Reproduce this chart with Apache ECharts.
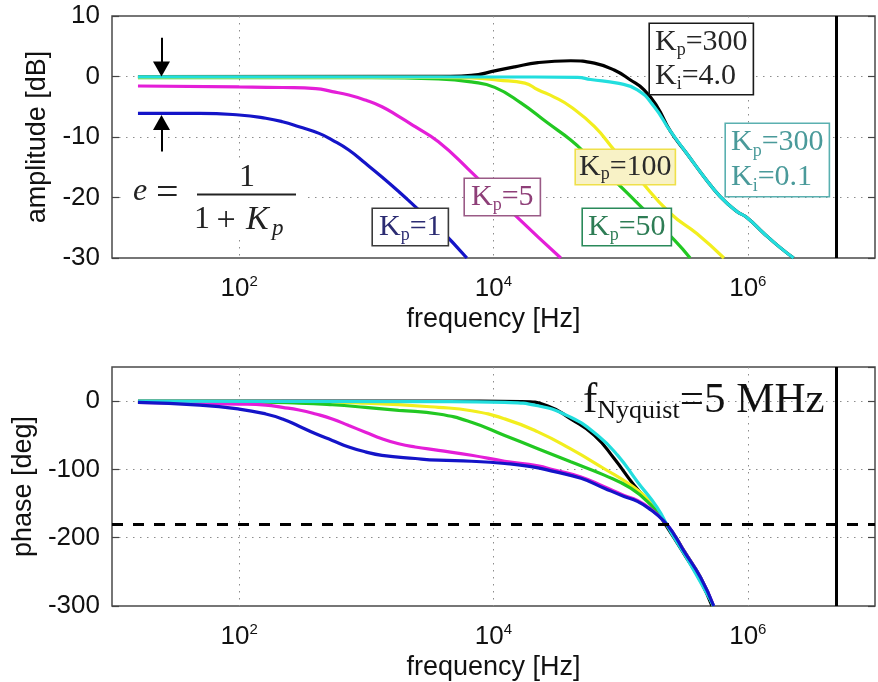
<!DOCTYPE html>
<html>
<head>
<meta charset="utf-8">
<script src="https://cdn.jsdelivr.net/npm/echarts@6/dist/echarts.min.js"></script>
<style>
html,body{margin:0;padding:0;background:#fff;}
#chart{width:878px;height:682px;}
</style>
</head>
<body>
<div id="chart"></div>
<script>
// ---- Bode data: frequency [Hz] with amplitude [dB] / phase [deg] ----
const ampKp1   = [[16,-6.08],[49,-6.08],[100,-6.36],[162,-6.9],[219,-7.47],[296,-8.3],[425,-9.4],[540,-10.5],[728,-12.15],[984,-14.35],[1327,-16.6],[1795,-19.0],[2422,-21.5],[3690,-25.0],[6170,-30]];
const ampKp5   = [[16,-1.57],[100,-1.72],[219,-1.82],[400,-2.0],[540,-2.5],[728,-3.06],[984,-3.9],[1327,-5.0],[1795,-6.6],[2422,-8.3],[3690,-10.8],[6330,-15.3],[14760,-22.9],[33810,-30]];
const ampKp50  = [[16,-0.17],[1000,-0.2],[3690,-0.4],[6680,-0.9],[10230,-1.8],[16520,-4.4],[26740,-7.7],[40480,-10.5],[58000,-13.5],[81700,-16.4],[130600,-20.6],[263700,-27.0],[351700,-30]];
const ampKp100 = [[16,-0.1],[3690,-0.15],[6680,-0.25],[10870,-0.6],[17650,-1.1],[22330,-2.2],[30000,-3.4],[40480,-5.0],[62350,-8.3],[89400,-12.2],[135300,-16.6],[245300,-22.6],[399000,-26.0],[648800,-30]];
const ampKi40  = [[16,0],[3690,0.02],[5570,0.08],[7590,0.3],[9580,0.8],[14700,1.6],[22330,2.3],[40480,2.6],[62100,2.2],[88900,1.07],[119400,-0.58],[152800,-2.2],[194000,-5.0],[245300,-9.0],[333300,-12.8],[453000,-16.6],[604000,-19.8],[820000,-22.3],[982000,-23.3],[1333000,-25.9],[1778000,-28.2],[2290000,-30]];
const ampKi01  = [[16,-0.05],[20000,-0.08],[45900,-0.15],[58000,-0.5],[94400,-1.1],[135300,-2.2],[183600,-5.0],[245300,-9.0],[333300,-12.8],[453000,-16.6],[604000,-19.8],[820000,-22.3],[982000,-23.3],[1333000,-25.9],[1778000,-28.2],[2290000,-30]];

const phKp1   = [[16,-1.9],[49,-5.8],[100,-11.6],[162,-18.8],[219,-26.1],[296,-36.7],[400,-47.8],[540,-57.5],[728,-67.1],[984,-74.3],[1327,-79.3],[2422,-84],[3690,-86.5],[6710,-88],[12250,-91.3],[19800,-96],[30200,-103.3],[48800,-113],[74300,-127.5],[106400,-139.6],[135300,-146.8],[172000,-159],[218800,-175.8],[262400,-195],[314000,-219.3],[424000,-258],[539000,-300]];
const phKp5   = [[16,-1.9],[100,-4.3],[162,-5.8],[219,-9.1],[296,-13],[400,-18.8],[540,-26],[728,-35.8],[984,-45.4],[1327,-55],[1795,-62.3],[2422,-67.1],[3690,-72],[6710,-79.3],[12250,-88],[22330,-94.7],[30200,-101],[48800,-111],[74300,-125.5],[106400,-138],[135300,-145.5],[172000,-158],[218800,-175.5],[262400,-195],[314000,-219],[424000,-258],[539000,-300]];
const phKp50  = [[16,-0.9],[100,-1.2],[296,-2.9],[540,-5.3],[984,-9.1],[1795,-13.5],[3690,-18.8],[6710,-30.9],[12250,-50.3],[22330,-69.6],[40480,-88.8],[74300,-108.3],[120000,-127.5],[172000,-151.7],[218800,-175.8],[262400,-195],[314000,-219],[424000,-258],[535000,-300]];
const phKp100 = [[16,-0.3],[300,-0.6],[984,-2.9],[3690,-9.1],[6710,-14],[12250,-26],[22330,-45],[40480,-70],[74300,-99],[120000,-123],[171000,-147],[218800,-176],[262400,-195],[314000,-219],[424000,-258],[535000,-300]];
const phKi40  = [[16,0],[3690,0],[16430,-0.5],[26740,-7],[40480,-26],[62100,-50],[88900,-84],[127600,-123],[182800,-156],[232500,-185],[315800,-224],[424000,-263],[522500,-300]];
const phKi01  = [[16,0],[3690,-0.7],[12250,-1.9],[22330,-6.8],[40480,-23.6],[65800,-50],[94400,-79],[135300,-118],[194000,-156],[245300,-190],[354000,-239],[539000,-300]];

const fNyquist = 5e6;          // Hz
const phaseMargin = -180;      // deg
const ampTicks = { min: -30, max: 10, step: 10 };
const phTicks  = { min: -300, max: 50, step: 100 };

const C = { kp1:'#1414c8', kp5:'#e41ed8', kp50:'#22c822', kp100:'#f2ee1e', ki40:'#000000', ki01:'#22dede' };
const sans = '"Liberation Sans", Arial, Helvetica, sans-serif';
const serif = '"Liberation Serif", "Times New Roman", serif';

const chart = echarts.init(document.getElementById('chart'));

function curve(data, color, xi, yi, extra) {
  return Object.assign({
    type: 'line', data, xAxisIndex: xi, yAxisIndex: yi,
    showSymbol: false, symbol: 'none', smooth: 0.5, silent: true, animation: false,
    lineStyle: { color, width: 3.2 }, z: 3
  }, extra || {});
}

const vline = {
  silent: true, symbol: 'none', animation: false,
  label: { show: false },
  lineStyle: { color: '#000', width: 3, type: 'solid' },
  data: [{ xAxis: fNyquist }]
};

function xAxisDef(gi) {
  return {
    type: 'log', logBase: 10, min: 10, max: 1e7, gridIndex: gi, splitNumber: 6,
    axisLine: { show: false }, axisTick: { show: false },
    splitLine: { show: true, lineStyle: { color: ['rgba(0,0,0,0)', '#8c8c8c'], type: [1.5, 5.5], width: 1 } },
    axisLabel: {
      margin: 16, color: '#111',
      formatter: v => { const e = Math.round(Math.log10(v)); return e % 2 === 0 ? '{b|10}{s|' + e + '}' : ''; },
      rich: {
        b: { fontFamily: sans, fontSize: 26, color: '#111', lineHeight: 30 },
        s: { fontFamily: sans, fontSize: 15, color: '#111', verticalAlign: 'top', lineHeight: 14 }
      }
    },
    name: 'frequency [Hz]', nameLocation: 'middle', nameGap: 48,
    nameTextStyle: { fontFamily: sans, fontSize: 27, color: '#111' }
  };
}

function yAxisDef(gi, t, name, gap, right) {
  return {
    type: 'value', gridIndex: gi, min: t.min, max: t.max, interval: t.step,
    position: right ? 'right' : 'left',
    axisLine: { show: false },
    axisTick: { show: true, inside: true, length: 7, lineStyle: { color: '#444', width: 1.2 } },
    axisLabel: right ? { show: false } : {
      margin: 12, color: '#111', fontFamily: sans, fontSize: 26, showMaxLabel: t.max % t.step === 0
    },
    splitLine: right ? { show: false } : { show: true, showMinLine: false, showMaxLine: false,
      lineStyle: { color: '#8c8c8c', type: [1.5, 5.5], width: 1 } },
    name: right ? '' : name, nameLocation: 'middle', nameGap: gap, nameRotate: 90,
    nameTextStyle: { fontFamily: sans, fontSize: 27, color: '#111' }
  };
}

// boxed parameter labels with subscripts
function paramLabel(x, y, text, color, border, bg, lh, pad) {
  return {
    type: 'text', x, y, z: 100, silent: true,
    style: {
      text, align: 'left', verticalAlign: 'top',
      backgroundColor: bg, borderColor: border, borderWidth: 1.6, padding: pad,
      rich: {
        a: { fontFamily: serif, fontSize: 30, lineHeight: lh, fill: color },
        s: { fontFamily: serif, fontSize: 18, lineHeight: 8, verticalAlign: 'bottom', fill: color }
      }
    }
  };
}

const graphics = [
  paramLabel(373, 209, '{a|K}{s|p}{a|=1}', '#2b2b72', '#3a3a3a', '#fff', 34, [1, 6, 1, 6]),
  paramLabel(465, 179, '{a|K}{s|p}{a|=5}', '#8e3f78', '#9a5a86', '#fff', 34, [1, 6, 1, 6]),
  paramLabel(576, 150, '{a|K}{s|p}{a|=100}', '#2a2a2a', '#efe04a', '#f8f2c6', 32, [1, 3, 1, 3]),
  paramLabel(583, 209, '{a|K}{s|p}{a|=50}', '#2e7d55', '#2a8a5a', '#fff', 34, [1, 5, 1, 5]),
  paramLabel(650, 24, '{a|K}{s|p}{a|=300}\n{a|K}{s|i}{a|=4.0}', '#262626', '#1a1a1a', '#fff', 34, [1, 5, 1, 5]),
  paramLabel(726, 124, '{a|K}{s|p}{a|=300}\n{a|K}{s|i}{a|=0.1}', '#4a9a9a', '#5ab0b0', '#fff', 35, [1, 5, 1, 5]),
  // sampling limit annotation
  {
    type: 'text', x: 583, y: 377, z: 100, silent: true,
    style: {
      text: '{f|f}{n|Nyquist}{f|=5 MHz}', align: 'left', verticalAlign: 'top',
      rich: {
        f: { fontFamily: serif, fontSize: 43, lineHeight: 47, fill: '#111' },
        n: { fontFamily: serif, fontSize: 26, lineHeight: 12, verticalAlign: 'bottom', fill: '#111' }
      }
    }
  },
  // static error formula e = 1/(1+Kp)
  { type: 'rect', z: 90, silent: true, shape: { x: 125, y: 163, width: 180, height: 77 }, style: { fill: '#fff' } },
  { type: 'text', x: 133, y: 192, z: 100, silent: true, style: { text: 'e', fontFamily: serif, fontStyle: 'italic', fontSize: 32, fill: '#222', verticalAlign: 'middle', align: 'left' } },
  { type: 'text', x: 156, y: 194, z: 100, silent: true, style: { text: '=', fontFamily: serif, fontSize: 40, fill: '#222', verticalAlign: 'middle', align: 'left' } },
  { type: 'text', x: 247, y: 177.5, z: 100, silent: true, style: { text: '1', fontFamily: serif, fontSize: 32, fill: '#222', verticalAlign: 'middle', align: 'center' } },
  { type: 'line', z: 100, silent: true, shape: { x1: 197, y1: 194.5, x2: 296, y2: 194.5 }, style: { stroke: '#222', lineWidth: 2 } },
  { type: 'text', x: 202, y: 220, z: 100, silent: true, style: { text: '1', fontFamily: serif, fontSize: 32, fill: '#222', verticalAlign: 'middle', align: 'center' } },
  { type: 'text', x: 226, y: 221, z: 100, silent: true, style: { text: '+', fontFamily: serif, fontSize: 34, fill: '#222', verticalAlign: 'middle', align: 'center' } },
  { type: 'text', x: 246, y: 220, z: 100, silent: true, style: { text: 'K', fontFamily: serif, fontStyle: 'italic', fontSize: 34, fill: '#222', verticalAlign: 'middle', align: 'left' } },
  { type: 'text', x: 272, y: 229, z: 100, silent: true, style: { text: 'p', fontFamily: serif, fontStyle: 'italic', fontSize: 23, fill: '#222', verticalAlign: 'middle', align: 'left' } }
];

// arrows marking the static error of the Kp=1 loop
const arrowX = 24.5;
const errArrows = {
  silent: true, animation: false, label: { show: false },
  lineStyle: { color: '#000', width: 2, type: 'solid' },
  data: [
    [{ coord: [arrowX, 6.4], symbol: 'none' }, { coord: [arrowX, 1.25], symbol: 'triangle', symbolSize: [17, 15] }],
    [{ coord: [arrowX, -12.4], symbol: 'none' }, { coord: [arrowX, -7.6], symbol: 'triangle', symbolSize: [17, 15] }]
  ]
};

const option = {
  backgroundColor: '#fff',
  animation: false,
  grid: [
    { left: 112, right: -1, top: 16, height: 242, show: true, borderColor: '#4a4a4a', borderWidth: 1.5, backgroundColor: 'transparent' },
    { left: 112, right: -1, top: 367, height: 242, show: true, borderColor: '#4a4a4a', borderWidth: 1.5, backgroundColor: 'transparent' }
  ],
  xAxis: [xAxisDef(0), xAxisDef(1)],
  yAxis: [
    yAxisDef(0, ampTicks, 'amplitude [dB]', 48, false),
    yAxisDef(0, ampTicks, '', 0, true),
    yAxisDef(1, phTicks, 'phase [deg]', 59, false),
    yAxisDef(1, phTicks, '', 0, true)
  ],
  series: [
    curve(ampKi40, C.ki40, 0, 0, { markLine: vline }),
    curve(ampKp50, C.kp50, 0, 0),
    curve(ampKp100, C.kp100, 0, 0),
    curve(ampKp5, C.kp5, 0, 0),
    curve(ampKp1, C.kp1, 0, 0, { markLine: errArrows }),
    curve(ampKi01, C.ki01, 0, 0),

    curve(phKi40, C.ki40, 1, 2, { markLine: Object.assign({}, vline, {
      data: [
        { xAxis: fNyquist },
        { yAxis: phaseMargin, lineStyle: { color: '#000', width: 3, type: [11, 10] } }
      ] }) }),
    curve(phKp100, C.kp100, 1, 2),
    curve(phKp50, C.kp50, 1, 2),
    curve(phKp5, C.kp5, 1, 2),
    curve(phKi01, C.ki01, 1, 2),
    curve(phKp1, C.kp1, 1, 2)
  ],
  graphic: graphics
};

chart.setOption(option);
</script>
</body>
</html>
